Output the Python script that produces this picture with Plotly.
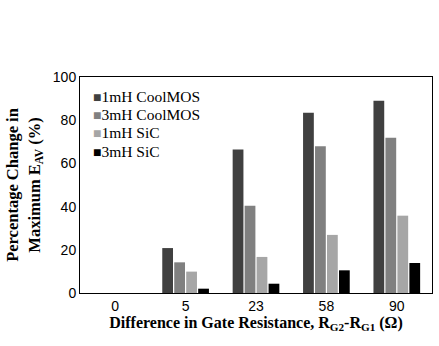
import plotly.graph_objects as go

categories = ["0", "5", "23", "58", "90"]
series_names = ["1mH CoolMOS", "3mH CoolMOS", "1mH SiC", "3mH SiC"]
coolmos_1mh = [0, 20.8, 66.4, 83.5, 89.0]
coolmos_3mh = [0, 14.2, 40.4, 67.9, 71.9]
sic_1mh = [0, 9.9, 16.7, 26.9, 35.8]
sic_3mh = [0, 2.0, 4.3, 10.5, 13.9]
colors = ["#404040", "#808080", "#a6a6a6", "#000000"]

fig = go.Figure()
for name, vals, c in zip(series_names, [coolmos_1mh, coolmos_3mh, sic_1mh, sic_3mh], colors):
    fig.add_trace(go.Bar(x=categories, y=vals, name=name, marker_color=c, marker_line_width=0))

serif = "Liberation Serif, Times New Roman, serif"
sans = "Liberation Sans, Arial, sans-serif"

# legend drawn as text entries inside the plot area (top-left)
legend_y = [0.912, 0.826, 0.741, 0.655]
for name, c, yy in zip(series_names, colors, legend_y):
    fig.add_annotation(
        xref="paper", yref="paper", x=0.03, y=yy, xanchor="left", yanchor="middle",
        showarrow=False, align="left",
        text=f"<span style='color:{c};font-size:14px'>■</span>{name}",
        font=dict(family=serif, size=15.5, color="black"),
    )

fig.update_layout(
    width=439, height=346,
    margin=dict(l=80, r=7, t=77, b=53),
    plot_bgcolor="white", paper_bgcolor="white",
    barmode="group", bargap=0.32, bargroupgap=0.1,
    showlegend=False,
    xaxis=dict(type="category", showline=True, linecolor="black", linewidth=1, mirror=True,
               showgrid=False, ticks="", tickfont=dict(family=sans, size=14, color="black"),
               title=dict(text="<b>Difference in Gate Resistance, R<sub>G2</sub>-R<sub>G1</sub> (Ω)</b>",
                          font=dict(family=serif, size=16, color="black"), standoff=1)),
    yaxis=dict(range=[0, 100], dtick=20, showline=True, linecolor="black", linewidth=1, mirror=True,
               showgrid=False, zeroline=False, ticks="", tickfont=dict(family=sans, size=14, color="black"),
               title=dict(text="<b>Percentage Change in<br>Maximum E<sub>AV</sub> (%)</b>",
                          font=dict(family=serif, size=16.5, color="black"), standoff=8)),
)

fig.write_html("out.html")
